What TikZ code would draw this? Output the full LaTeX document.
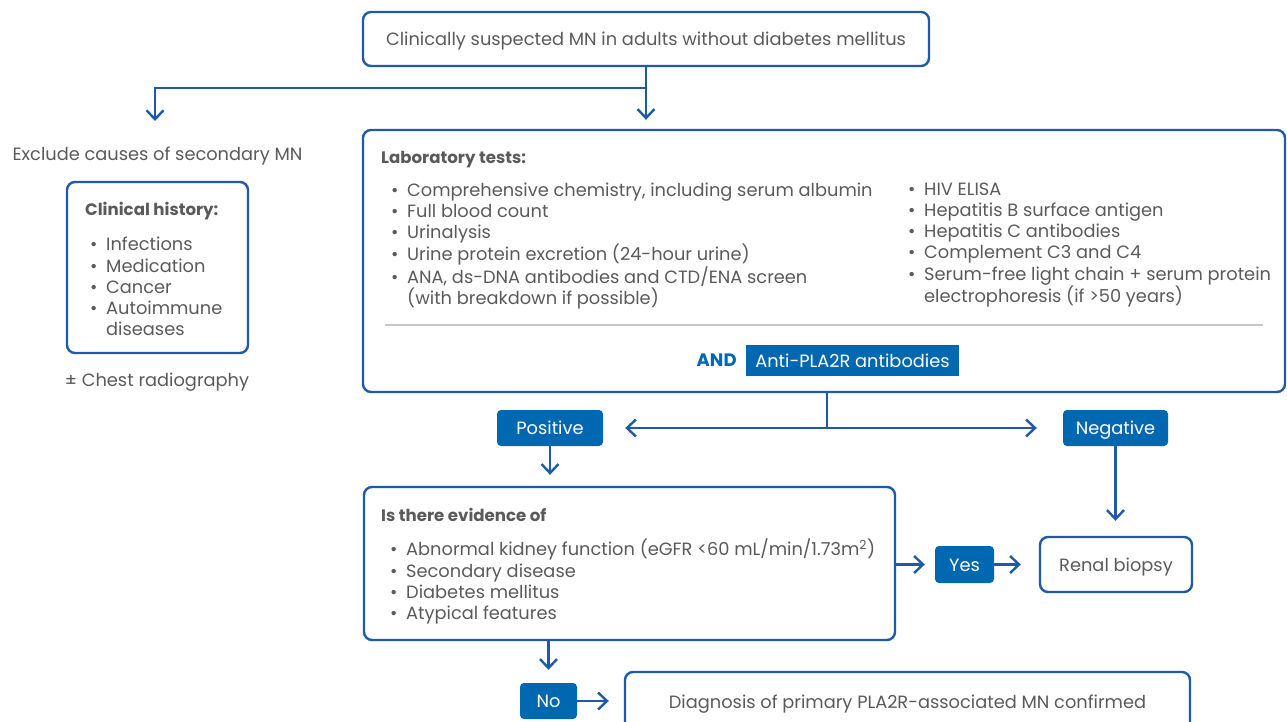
\documentclass[tikz,border=0pt]{standalone}
\usepackage{fontspec}
\setmainfont{Poppins}
\usetikzlibrary{arrows.meta, positioning, calc}
\definecolor{primary}{HTML}{1F5AA8}
\definecolor{tagblue}{HTML}{0067B1}
\definecolor{textgray}{HTML}{5A5A5A}
\definecolor{rulegray}{HTML}{C8C8C8}
\newcommand{\bul}{\makebox[16pt][l]{\textbullet}}
\newcommand{\cont}{\hspace*{16pt}}

\begin{document}
\begin{tikzpicture}[
  x=1pt, y=-1pt,
  font=\fontsize{17.8}{21.2}\selectfont, text=textgray,
  box/.style={rectangle, draw=primary, line width=2.4pt, rounded corners=8pt, inner sep=0pt, text height=14pt, text depth=0pt},
  tag/.style={rectangle, fill=tagblue, text=white, rounded corners=4pt, inner sep=0pt, text height=13pt, text depth=0pt},
  list/.style={anchor=north west, align=left, inner sep=0pt},
  title/.style={anchor=west, inner sep=0pt, font=\fontsize{16.6}{21}\selectfont\bfseries},
  arrow/.style={-{Straight Barb[length=9pt,width=17pt]}, line width=2.4pt, draw=primary},
  line/.style={line width=2.4pt, draw=primary}
]
  \clip (0,0) rectangle (1287,722);

  % top of the chart
  \node[box, minimum width=566pt, minimum height=54pt] (start) at (646,39) {Clinically suspected MN in adults without diabetes mellitus};

  % secondary causes
  \node[inner sep=0pt] (exclude) at (157.5,156) {Exclude causes of secondary MN};
  \node[box, minimum width=181pt, minimum height=171pt] (history) at (157.5,267.5) {};
  \node[title] (histtitle) at (85,211) {Clinical history:};
  \node[list] (histlist) at (90,237) {\bul Infections\\ \bul Medication\\ \bul Cancer\\ \bul Autoimmune\\ \cont diseases};
  \node[inner sep=0pt] (chest) at (157,382) {± Chest radiography};

  % laboratory tests
  \node[box, minimum width=922pt, minimum height=262pt] (lab) at (824,261) {};
  \node[title] (labtitle) at (381,160) {Laboratory tests:};
  \node[list] (lableft) at (391,182.5) {\bul Comprehensive chemistry, including serum albumin\\
    \bul Full blood count\\ \bul Urinalysis\\ \bul Urine protein excretion (24-hour urine)\\
    \bul ANA, ds-DNA antibodies and CTD/ENA screen\\ \cont (with breakdown if possible)};
  \node[list] (labright) at (908,182.5) {\bul HIV ELISA\\ \bul Hepatitis B surface antigen\\
    \bul Hepatitis C antibodies\\ \bul Complement C3 and C4\\
    \bul Serum-free light chain + serum protein\\ \cont electrophoresis (if >50 years)};
  \draw[rulegray, line width=1.2pt] (385,325) -- (1263,325);
  \node[tag, rounded corners=0pt, minimum width=213pt, minimum height=31pt] (pla) at (852.5,360.5) {Anti-PLA2R antibodies};
  \node[inner sep=0pt, text=tagblue, font=\fontsize{18}{21}\selectfont\bfseries, left=9pt of pla] (and) {AND};

  % results
  \node[tag, minimum width=106pt, minimum height=36pt] (positive) at (550,428) {Positive};
  \node[tag, minimum width=105pt, minimum height=36pt] (negative) at (1115.5,428) {Negative};

  \node[box, minimum width=531pt, minimum height=153pt] (evidence) at (629.5,563.5) {};
  \node[title] (evidtitle) at (381,514.5) {Is there evidence of};
  \node[list] (evidlist) at (390,539) {\bul Abnormal kidney function (eGFR <60 mL/min/1.73m\textsuperscript{2})\\
    \bul Secondary disease\\ \bul Diabetes mellitus\\ \bul Atypical features};

  \node[tag, minimum width=59pt, minimum height=37pt] (yes) at (964.5,564.5) {Yes};
  \node[box, minimum width=152pt, minimum height=55pt] (biopsy) at (1116,564.5) {Renal biopsy};
  \node[tag, minimum width=57pt, minimum height=36pt] (no) at (548.5,701) {No};
  \node[box, minimum width=565pt, minimum height=58pt] (diagnosis) at (907.5,701) {Diagnosis of primary PLA2R-associated MN confirmed};

  % connectors
  \coordinate (fork) at (646,88);
  \coordinate (leftend) at (155,121);
  \coordinate (split) at (827,428);
  \draw[arrow, shorten >=9pt] (start.south) -- (start.south |- lab.north);
  \draw[arrow] (fork) -| (leftend);
  \draw[line] (lab.south -| split) -- (split);
  \draw[arrow, shorten >=22pt] (split) -- (positive.east);
  \draw[arrow, shorten >=26pt] (split) -- (negative.west);
  \draw[arrow, shorten >=11pt] (positive.south) -- (positive.south |- evidence.north);
  \draw[arrow, shorten >=15pt] (negative.south) -- (negative.south |- biopsy.north);
  \draw[arrow, shorten >=10pt] (evidence.east |- yes) -- (yes.west);
  \draw[arrow, shorten >=18pt] (yes.east) -- (biopsy.west);
  \draw[arrow, shorten >=13pt] (evidence.south -| no) -- (no.north);
  \draw[arrow, shorten >=15pt] (no.east) -- (diagnosis.west |- no);
\end{tikzpicture}
\end{document}
